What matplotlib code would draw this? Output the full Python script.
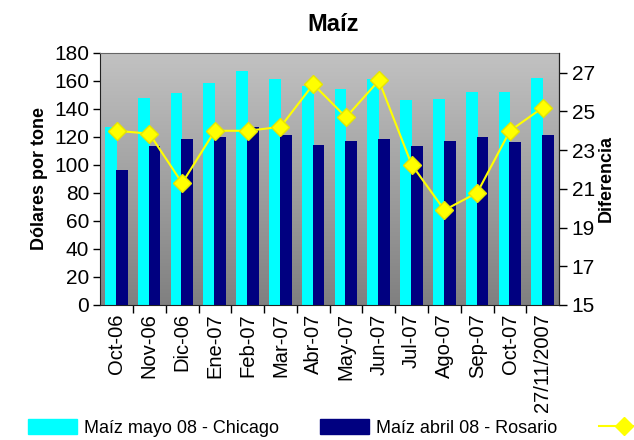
import numpy as np
import matplotlib.pyplot as plt
from matplotlib.colors import LinearSegmentedColormap
from matplotlib.lines import Line2D
from matplotlib.patches import Patch

plt.rcParams['font.family'] = ['Liberation Sans', 'DejaVu Sans']

meses = ["Oct-06", "Nov-06", "Dic-06", "Ene-07", "Feb-07", "Mar-07", "Abr-07",
         "May-07", "Jun-07", "Jul-07", "Ago-07", "Sep-07", "Oct-07", "27/11/2007"]
chicago = [127, 148, 151, 158.5, 167, 161, 156, 154, 161, 146, 147, 152, 152, 162]
rosario = [96.5, 113.5, 118.5, 120, 127, 121, 114.5, 117, 118.5, 113.5, 117, 120, 116, 121]
diferencia = [24.0, 23.85, 21.3, 24.0, 24.0, 24.2, 26.4, 24.7, 26.6, 22.25, 19.9, 20.8, 24.0, 25.2]

fig = plt.figure(figsize=(6.34, 4.4), dpi=100)
ax = fig.add_axes([0.158, 0.307, 0.724, 0.573])

# fondo degradado gris
cmap = LinearSegmentedColormap.from_list("gris", ["#808080", "#c2c2c2"])
grad = np.linspace(0, 1, 256).reshape(-1, 1)
ax.imshow(grad, extent=[0, 1, 0, 1], transform=ax.transAxes, aspect='auto',
          cmap=cmap, origin='lower', zorder=0)

x = np.arange(len(meses))
ax.bar(x - 0.17, chicago, width=0.36, color="#00ffff", zorder=2)
ax.bar(x + 0.16, rosario, width=0.36, color="#000080", zorder=3)
ax.set_xlim(-0.5, len(meses) - 0.5)
ax.set_ylim(0, 180)
ax.set_yticks(range(0, 181, 20))
ax.set_xticks(x)
ax.set_xticklabels(meses, rotation=90, fontsize=14.5)
ax.tick_params(axis='x', length=0, pad=6)
ax.set_xticks(np.arange(0.5, len(meses) - 0.5), minor=True)
ax.tick_params(axis='x', which='minor', length=6, width=1, direction='out')
ax.tick_params(axis='y', labelsize=15, length=5, width=1, direction='out', pad=3)
ax.set_ylabel("Dólares por tone", fontsize=13, fontweight='bold', labelpad=4)

for s in ['left', 'bottom']:
    ax.spines[s].set_color('#222222')
ax.spines['top'].set_color('#666666')

ax2 = ax.twinx()
ax2.plot(x, diferencia, color="#ffff00", linewidth=1.5, marker='D',
         markersize=9, markerfacecolor="#ffff00", markeredgecolor="#e6e600", zorder=5)
ax2.set_ylim(15, 28.03)
ax2.set_yticks(range(15, 28, 2))
ax2.tick_params(axis='y', labelsize=15, length=6, width=1, direction='out', pad=3)
ax2.spines['right'].set_color('#222222')
ax2.spines['top'].set_visible(False)
ax2.spines['left'].set_visible(False)
ax2.spines['bottom'].set_visible(False)
ax2.set_ylabel("Diferencia", fontsize=13, fontweight='bold', labelpad=2)

fig.text(0.525, 0.945, "Maíz", fontsize=17, fontweight='bold', ha='center', va='center')

handles = [Patch(color="#00ffff"), Patch(color="#000080"),
           Line2D([], [], color="#ffff00", marker='D', markersize=9, linewidth=1.5)]
labels = ["Maíz mayo 08 - Chicago", "Maíz abril 08 - Rosario", ""]
fig.legend(handles, labels, loc='center left', bbox_to_anchor=(0.044, 0.027),
           ncol=3, frameon=False, fontsize=13, handlelength=2.7, handleheight=0.9,
           columnspacing=2.3, handletextpad=0.4, borderpad=0, borderaxespad=0)

fig.savefig("out.png", dpi=100)
